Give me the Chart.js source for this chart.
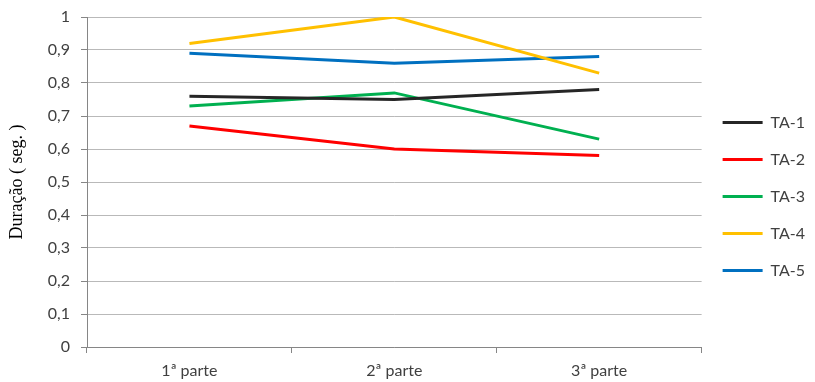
<!DOCTYPE html>
<html>
<head>
<meta charset="utf-8">
<script src="https://cdn.jsdelivr.net/npm/chart.js@4/dist/chart.umd.min.js"></script>
<style>
  html, body { margin: 0; padding: 0; background: #fff; }
  #wrap { width: 815px; height: 382px; }
</style>
</head>
<body>
<div id="wrap"><canvas id="durChart"></canvas></div>
<script>
// chart data
const categories = ['1ª parte', '2ª parte', '3ª parte'];
const seriesNames = ['TA-1', 'TA-2', 'TA-3', 'TA-4', 'TA-5'];
const ta1 = [0.76, 0.75, 0.78];
const ta2 = [0.67, 0.60, 0.58];
const ta3 = [0.73, 0.77, 0.63];
const ta4 = [0.92, 1.00, 0.83];
const ta5 = [0.89, 0.86, 0.88];
const yTickLabels = ['0', '0,1', '0,2', '0,3', '0,4', '0,5', '0,6', '0,7', '0,8', '0,9', '1'];
const yTitle = 'Duração ( seg. )';

const colors = ['#262626', '#ff0000', '#00b050', '#ffc000', '#0070c0'];
const values = [ta1, ta2, ta3, ta4, ta5];

const ctx = document.getElementById('durChart');

new Chart(ctx, {
  type: 'line',
  data: {
    labels: categories,
    datasets: seriesNames.map((name, i) => ({
      label: name,
      data: values[i],
      borderColor: colors[i],
      backgroundColor: colors[i],
      borderWidth: 3,
      pointRadius: 0,
      tension: 0
    }))
  },
  options: {
    responsive: true,
    maintainAspectRatio: false,
    animation: false,
    layout: { padding: { top: 11, right: 0, bottom: 0, left: 0 } },
    plugins: {
      tooltip: { enabled: false },
      legend: {
        position: 'right',
        labels: {
          usePointStyle: true,
          pointStyle: 'line',
          pointStyleWidth: 40,
          padding: 21,
          color: '#404040',
          font: { family: 'Lato', size: 16 }
        }
      }
    },
    scales: {
      x: {
        offset: true,
        afterFit: s => { s.height = 35; },
        grid: {
          display: true,
          drawOnChartArea: false,
          drawTicks: true,
          tickLength: 6,
          offset: true,
          color: '#868686'
        },
        border: { color: '#868686', width: 1 },
        ticks: {
          color: '#404040',
          padding: 8,
          font: { family: 'Lato', size: 16 }
        }
      },
      y: {
        min: 0,
        max: 1,
        afterFit: s => { s.width = 87; s.paddingTop = 17; },
        grid: {
          color: '#b9b9b9',
          drawTicks: true,
          tickLength: 6,
          tickColor: '#868686'
        },
        border: { color: '#868686', width: 1 },
        ticks: {
          stepSize: 0.1,
          padding: 11,
          color: '#404040',
          font: { family: 'Lato', size: 16 },
          callback: (v, idx) => yTickLabels[idx]
        },
        title: {
          display: true,
          text: yTitle,
          color: '#000',
          padding: { top: 6, bottom: 4 },
          font: { family: 'Liberation Serif', size: 18 }
        }
      }
    }
  }
});
</script>
</body>
</html>
